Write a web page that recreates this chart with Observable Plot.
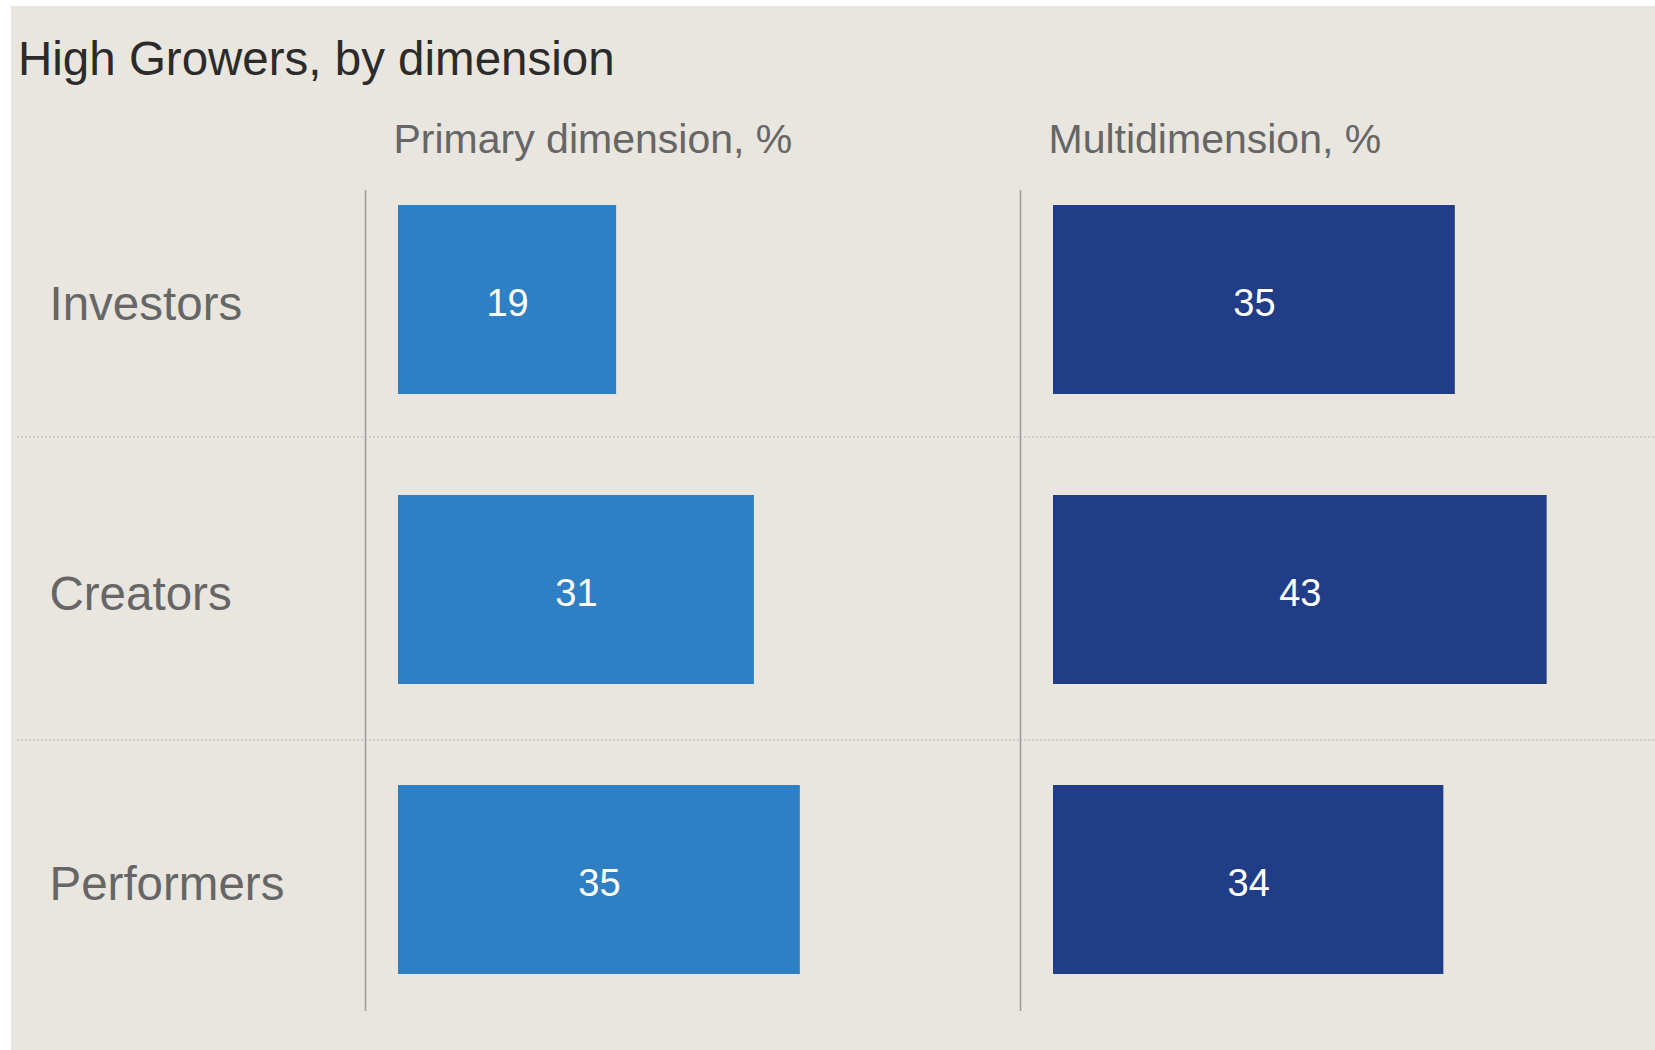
<!DOCTYPE html>
<html>
<head>
<meta charset="utf-8">
<script src="https://cdn.jsdelivr.net/npm/d3@7"></script>
<script src="https://cdn.jsdelivr.net/npm/@observablehq/plot@0.6"></script>
<style>
  html, body { margin: 0; padding: 0; background: #ffffff; }
  #card {
    position: absolute; left: 11px; top: 6px; width: 1644px; height: 1044px;
    background: #E9E5DF; overflow: hidden;
    font-family: "Liberation Sans", Arial, Helvetica, sans-serif;
  }
  #title {
    position: absolute; left: 7px; top: 29px; margin: 0;
    font-size: 47.5px; line-height: 47.5px; font-weight: normal; color: #2b2b2b;
    white-space: nowrap;
  }
  #chart { position: absolute; left: 0; top: 94px; }
</style>
</head>
<body>
<div id="card">
  <h1 id="title">High Growers, by dimension</h1>
  <div id="chart"></div>
</div>
<script>
// ---- data ----
const rows = ["Investors", "Creators", "Performers"];
const panels = ["Primary dimension, %", "Multidimension, %"];
const primaryValues = [19, 31, 35];
const multiValues = [35, 43, 34];
const panelColors = ["#2F7FC4", "#213D88"];

const data = rows.flatMap((r, i) => [
  {row: r, panel: panels[0], value: primaryValues[i]},
  {row: r, panel: panels[1], value: multiValues[i]}
]);
const separators = rows.slice(1);
const sepShift = [-153, -140]; // style offsets of each dotted separator above its row

const sepStyle = {stroke: "#A9B9C3", strokeWidth: 1.2, strokeDasharray: "2,2"};
const separatorMarks = separators.flatMap((s, i) => [
  Plot.ruleY([s], {y: d => d, fx: () => panels[0], dy: sepShift[i], insetLeft: -348, insetRight: -25, ...sepStyle}),
  Plot.ruleY([s], {y: d => d, fx: () => panels[1], dy: sepShift[i], insetRight: -5, ...sepStyle})
]);

const chart = Plot.plot({
  width: 1644,
  height: 944,
  marginTop: 90,
  marginBottom: 33,
  marginLeft: 354,
  marginRight: 5,
  style: {background: "transparent", fontFamily: "'Liberation Sans', Arial, Helvetica, sans-serif", overflow: "visible"},
  fx: {domain: panels, paddingInner: 25 / 655, paddingOuter: 0, axis: null},
  x: {domain: [0, 52], insetLeft: 33, axis: null},
  y: {domain: rows, paddingInner: 0.35, paddingOuter: 0, insetTop: 14, insetBottom: 37, axis: null},
  color: {domain: panels, range: panelColors},
  marks: [
    ...separatorMarks,
    // vertical baseline per panel
    Plot.ruleX(panels, {fx: d => d, x: () => 0, dx: -33, stroke: "#9C9C9C", strokeWidth: 1.5}),
    // bars
    Plot.barX(data, {x: "value", y: "row", fx: "panel", fill: "panel"}),
    // value labels
    Plot.text(data, {x: d => d.value / 2, y: "row", fx: "panel", text: d => String(d.value),
      fill: "white", fontSize: 38, dy: 4}),
    // row labels
    Plot.text(rows, {y: d => d, fx: () => panels[0], text: d => d, frameAnchor: "left",
      textAnchor: "start", dx: -316, dy: 5, fontSize: 47.5, fill: "#666666"}),
    // panel titles
    Plot.text(panels, {fx: d => d, text: d => d, frameAnchor: "top-left", textAnchor: "start",
      lineAnchor: "bottom", dx: 28, dy: -38, fontSize: 41, fill: "#666666"})
  ]
});
document.getElementById("chart").appendChild(chart);
</script>
</body>
</html>
